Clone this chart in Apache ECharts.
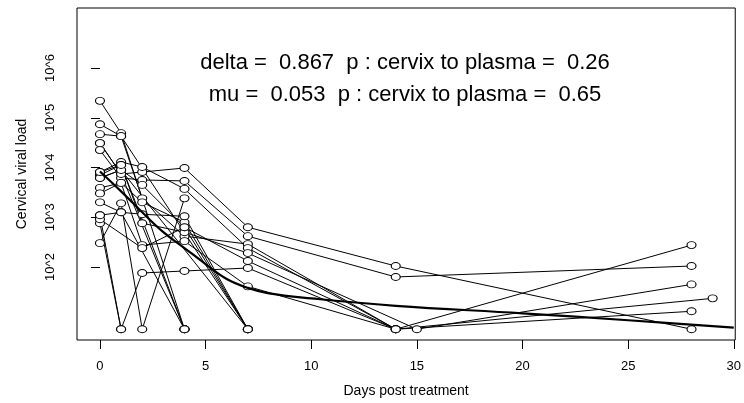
<!DOCTYPE html>
<html><head><meta charset="utf-8">
<script src="https://cdn.jsdelivr.net/npm/echarts@6/dist/echarts.min.js"></script>
<style>html,body{margin:0;padding:0;background:#fff}#c{width:744px;height:403px}</style>
</head><body><div id="c"></div>
<script>
// ---- data (log10 viral load) ----
const xTicks = [0, 5, 10, 15, 20, 25, 30];
const yTicks = [2, 3, 4, 5, 6];
const yTickLabels = ['10^2', '10^3', '10^4', '10^5', '10^6'];
const xTitle = 'Days post treatment';
const yTitle = 'Cervical viral load';
const note1 = 'delta =  0.867  p : cervix to plasma =  0.26';
const note2 = 'mu =  0.053  p : cervix to plasma =  0.65';

const patient01 = [[0,5.34],[1,4.69],[4,0.75]];
const patient02 = [[0,4.87],[1,4.63],[7,0.75]];
const patient03 = [[0,4.67],[1,4.63],[2,3.38],[4,2.62],[7,2.46],[14,0.75],[28,1.11]];
const patient04 = [[0,4.49],[1,3.87],[2,3.91],[4,3.99],[7,2.80],[14,2.02],[28,0.75]];
const patient05 = [[0,4.35],[1,3.79],[2,3.75],[4,3.73],[7,2.62],[14,1.80],[28,2.02]];
const patient06 = [[0,3.91],[1,4.11],[2,4.01],[4,3.57],[7,2.38],[14,0.75],[28,2.44]];
const patient07 = [[0,3.85],[1,4.05],[2,2.88],[4,2.70],[7,2.28],[15,0.75],[28,1.65]];
const patient08 = [[0,3.79],[1,3.95],[2,3.65],[4,2.80],[7,2.12],[14,0.75],[29,1.37]];
const patient09 = [[0,3.59],[1,3.69],[2,3.30],[4,2.90],[7,0.75]];
const patient10 = [[0,3.48],[1,3.69],[2,2.44],[4,2.52],[7,1.61],[14,0.75]];
const patient11 = [[0,3.30],[1,3.10],[2,3.06],[4,3.02],[7,0.75]];
const patient12 = [[0,3.04],[1,0.75],[2,1.88],[4,1.92],[7,1.98],[14,0.75]];
const patient13 = [[0,2.88],[1,0.75]];
const patient14 = [[0,2.96],[2,2.38],[4,2.80],[7,0.75]];
const patient15 = [[0,2.48],[1,3.28],[2,0.75],[4,3.38]];
const patient16 = [[0,4.49],[1,3.87],[4,0.75]];
const patient17 = [[0,3.79],[1,3.95],[7,0.75]];
const patient18 = [[0,3.91],[1,4.05],[4,0.75]];
const patient19 = [[0,3.04],[1,3.10],[4,0.75]];

const fitDays = [0, 1, 2, 3, 4, 5, 6, 7, 8, 10, 14, 20, 25, 30];
const fitVals = [3.92, 3.52, 3.10, 2.70, 2.38, 2.06, 1.76, 1.58, 1.47, 1.37, 1.22, 1.07, 0.93, 0.78];

const patients = [patient01, patient02, patient03, patient04, patient05, patient06, patient07,
  patient08, patient09, patient10, patient11, patient12, patient13, patient14, patient15,
  patient16, patient17, patient18, patient19];

// ---- chart ----
const FONT = 'Liberation Sans, Arial, Helvetica, sans-serif';
const chart = echarts.init(document.getElementById('c'), null, {renderer: 'canvas'});
const series = patients.map((p, i) => ({
  name: 'patient ' + (i + 1),
  type: 'line',
  data: p,
  symbol: 'circle',
  symbolSize: [9, 7],
  lineStyle: {color: '#000', width: 1},
  itemStyle: {color: '#fff', borderColor: '#000', borderWidth: 1},
  emphasis: {disabled: true},
  z: 2
}));
series.push({
  name: 'fit',
  type: 'line',
  data: fitDays.map((d, i) => [d, fitVals[i]]),
  symbol: 'none',
  smooth: 0.4,
  lineStyle: {color: '#000', width: 2.2},
  emphasis: {disabled: true},
  z: 3
});

chart.setOption({
  animation: false,
  backgroundColor: '#fff',
  grid: {left: 77, right: 8, top: 8, bottom: 63, show: true, borderColor: '#000', borderWidth: 1, backgroundColor: 'transparent'},
  xAxis: {
    type: 'value', min: -1.087, max: 30.07,
    name: xTitle, nameLocation: 'middle', nameGap: 44,
    nameTextStyle: {fontFamily: FONT, fontSize: 14, color: '#000'},
    axisLine: {show: false},
    splitLine: {show: false},
    axisTick: {show: true, length: 9, customValues: xTicks, lineStyle: {color: '#000'}},
    axisLabel: {customValues: xTicks, margin: 20, fontFamily: FONT, fontSize: 13, color: '#000'}
  },
  yAxis: {
    type: 'value', min: 0.533, max: 7.206,
    name: yTitle, nameLocation: 'middle', nameGap: 48,
    nameTextStyle: {fontFamily: FONT, fontSize: 14, color: '#000'},
    axisLine: {show: false},
    splitLine: {show: false},
    axisTick: {show: true, length: 9, customValues: yTicks, lineStyle: {color: '#000'}},
    axisLabel: {customValues: yTicks, rotate: 90, margin: 20, align: 'center', verticalAlign: 'bottom',
      fontFamily: FONT, fontSize: 13, color: '#000',
      formatter: v => yTickLabels[yTicks.indexOf(Math.round(v))] || ''}
  },
  graphic: [
    {type: 'text', x: 405, y: 63, style: {text: note1, fontFamily: FONT, fontSize: 22, fill: '#000', align: 'center', verticalAlign: 'middle'}},
    {type: 'text', x: 405, y: 95, style: {text: note2, fontFamily: FONT, fontSize: 22, fill: '#000', align: 'center', verticalAlign: 'middle'}}
  ],
  series: series
});
</script>
</body></html>
